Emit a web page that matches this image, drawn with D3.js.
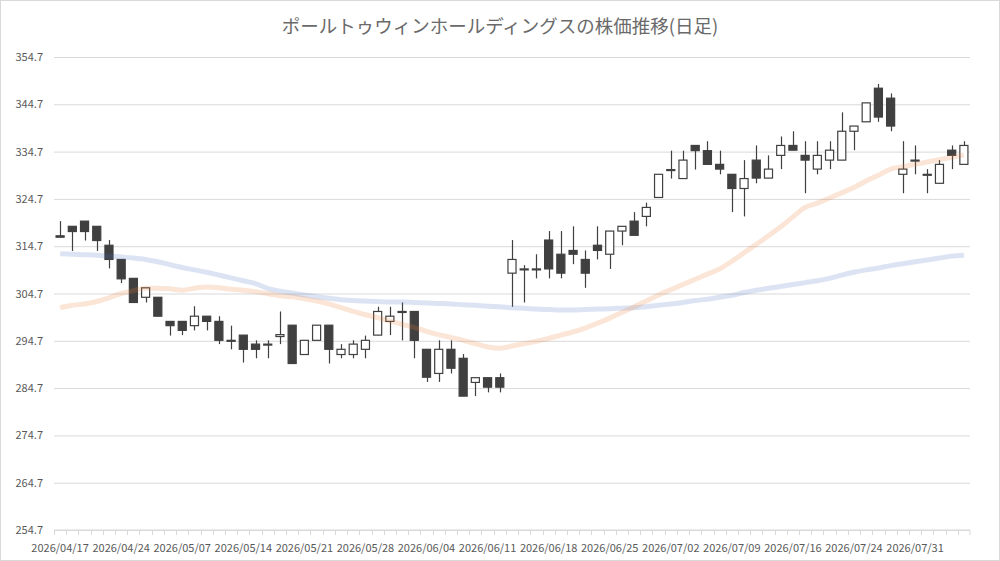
<!DOCTYPE html>
<html>
<head>
<meta charset="utf-8">
<script src="https://cdn.jsdelivr.net/npm/d3@7"></script>
<style>
  body { margin: 0; background: #fff; }
  text { font-family: "Noto Sans CJK JP", "Noto Sans", sans-serif; fill: #595959; }
</style>
</head>
<body>
<svg id="chart" width="1000" height="561"></svg>
<script>
// data
var dates = ["2026/04/17","2026/04/20","2026/04/21","2026/04/22","2026/04/23","2026/04/24","2026/04/27","2026/04/28","2026/04/30","2026/05/01",
  "2026/05/07","2026/05/08","2026/05/11","2026/05/12","2026/05/13","2026/05/14","2026/05/15","2026/05/18","2026/05/19","2026/05/20",
  "2026/05/21","2026/05/22","2026/05/25","2026/05/26","2026/05/27","2026/05/28","2026/05/29","2026/06/01","2026/06/02","2026/06/03",
  "2026/06/04","2026/06/05","2026/06/08","2026/06/09","2026/06/10","2026/06/11","2026/06/12","2026/06/15","2026/06/16","2026/06/17",
  "2026/06/18","2026/06/19","2026/06/22","2026/06/23","2026/06/24","2026/06/25","2026/06/26","2026/06/29","2026/06/30","2026/07/01",
  "2026/07/02","2026/07/03","2026/07/06","2026/07/07","2026/07/08","2026/07/09","2026/07/10","2026/07/13","2026/07/14","2026/07/15",
  "2026/07/16","2026/07/17","2026/07/21","2026/07/22","2026/07/23","2026/07/24","2026/07/27","2026/07/28","2026/07/29","2026/07/30",
  "2026/07/31","2026/08/03","2026/08/04","2026/08/05","2026/08/06"];

var open = [316.9,318.9,320.0,318.9,314.9,311.9,307.9,303.9,303.9,298.8,
  298.8,297.9,299.9,298.8,294.8,295.9,294.0,294.0,295.6,298.0,
  291.8,294.8,298.0,291.8,291.8,292.9,295.9,298.8,300.9,300.9,
  292.9,287.8,292.9,291.0,285.9,286.9,286.9,309.0,309.9,309.9,
  316.0,313.0,313.8,311.9,314.9,313.0,317.9,320.0,321.0,325.0,
  330.9,329.0,336.0,334.9,332.0,329.9,326.9,332.9,329.1,333.9,
  336.0,333.9,331.0,332.9,332.9,339.0,341.0,348.1,346.0,329.9,
  332.9,329.9,328.0,335.0,332.0];
var high = [320.0,318.9,320.0,318.9,316.0,311.9,307.9,305.9,303.9,298.8,
  298.8,302.0,299.9,299.9,297.9,295.9,294.8,294.8,300.9,298.0,
  294.8,298.0,298.0,294.0,294.8,295.8,301.9,301.9,302.8,300.9,
  292.9,294.8,294.8,291.9,286.9,286.9,287.8,316.0,310.7,313.0,
  317.9,317.9,318.9,313.8,318.9,317.9,318.9,321.9,323.9,329.9,
  334.9,334.9,336.0,336.9,334.9,329.9,332.9,336.0,333.9,337.9,
  339.0,336.9,336.9,336.9,343.0,340.1,345.0,349.0,347.0,336.9,
  336.0,331.0,332.9,336.0,336.9];
var low = [316.6,313.7,315.9,313.7,310.0,306.9,302.8,302.8,299.9,295.8,
  295.9,296.9,296.9,294.0,292.9,290.1,291.0,291.0,294.0,289.9,
  291.8,294.8,289.9,291.0,291.0,291.0,295.9,295.9,294.8,291.0,
  286.0,286.0,287.8,283.0,283.0,283.8,283.8,301.9,302.8,307.9,
  307.9,307.9,310.9,305.9,311.9,309.9,314.9,317.0,318.9,325.0,
  329.0,329.0,330.9,332.0,329.9,321.9,321.0,328.0,329.1,331.0,
  335.0,325.9,329.9,331.0,332.9,335.0,341.0,341.0,339.0,325.9,
  329.9,325.9,328.0,331.0,332.0];
var close = [316.6,317.8,317.8,315.9,311.9,307.8,302.8,305.9,299.9,297.9,
  296.9,299.9,298.8,294.8,294.8,292.9,292.9,294.0,296.0,289.9,
  294.8,298.0,292.9,292.9,294.0,294.8,300.9,299.9,300.9,294.8,
  287.0,292.9,288.9,283.0,286.9,284.9,284.9,311.9,309.9,309.9,
  309.9,309.0,313.0,309.0,313.8,317.9,318.9,317.0,322.9,329.9,
  330.9,332.9,334.9,332.0,331.0,326.9,329.0,329.1,331.0,336.0,
  335.0,332.9,333.9,335.0,339.0,340.1,345.0,342.0,340.1,331.0,
  332.9,329.9,332.0,333.9,336.0];

// moving averages (orange = short, blue = long)
var maShort = [301.7,302.2,302.5,303.0,303.8,304.7,305.3,305.8,305.8,305.7,
  305.4,305.8,306.1,305.9,305.6,305.4,305.1,304.7,304.2,304.0,
  303.6,303.1,302.5,301.7,300.9,300.2,299.6,298.9,298.2,297.5,
  296.7,296.0,295.4,294.8,294.1,293.4,293.1,293.6,294.1,294.6,
  295.2,295.9,296.6,297.4,298.4,299.5,300.7,301.9,303.1,304.4,
  305.5,306.6,307.7,308.8,309.9,311.5,313.3,315.1,316.9,318.8,
  320.9,322.9,323.8,324.9,326.0,327.1,328.5,329.7,331.0,331.5,
  332.0,332.5,333.0,333.5,334.0];
var maLong = [313.1,313.0,312.9,312.8,312.6,312.4,312.2,311.9,311.4,310.8,
  310.2,309.7,309.2,308.6,308.0,307.4,306.8,305.8,305.2,304.8,
  304.4,304.0,303.7,303.4,303.2,303.1,303.0,302.9,302.9,302.8,
  302.7,302.6,302.5,302.3,302.2,302.0,301.9,301.7,301.6,301.4,
  301.3,301.2,301.2,301.3,301.4,301.5,301.6,301.7,301.9,302.2,
  302.5,302.8,303.2,303.5,303.9,304.3,304.9,305.4,305.8,306.2,
  306.6,307.0,307.4,307.9,308.6,309.2,309.7,310.1,310.6,311.0,
  311.4,311.8,312.2,312.6,312.8];

var yTicks = [254.7,264.7,274.7,284.7,294.7,304.7,314.7,324.7,334.7,344.7,354.7];
var title = "ポールトゥウィンホールディングスの株価推移(日足)";

var svg = d3.select("#chart");
var plotLeft = 54, plotRight = 970, plotTop = 57, plotBottom = 530;

svg.append("rect")
    .attr("x", 0.5).attr("y", 0.5).attr("width", 999).attr("height", 560)
    .attr("fill", "#fff").attr("stroke", "#d9d9d9");

svg.append("text")
    .attr("x", 500).attr("y", 33)
    .attr("text-anchor", "middle")
    .style("font-size", "18.5px")
    .style("fill", "#6a6a6a")
    .text(title);

var x = d3.scaleBand().domain(dates).range([plotLeft, plotRight]).paddingInner(0.34).paddingOuter(0.17);
var xc = d3.scaleBand().domain(dates).range([plotLeft, plotRight]);
var y = d3.scaleLinear().domain([yTicks[0], yTicks[yTicks.length - 1]]).range([plotBottom, plotTop]);

// grid + y labels
var yAxis = svg.append("g")
    .attr("transform", "translate(" + plotLeft + ",0)")
    .call(d3.axisLeft(y).tickValues(yTicks).tickSize(-(plotRight - plotLeft)).tickFormat(d3.format(".1f")));
yAxis.select(".domain").remove();
yAxis.selectAll(".tick line").attr("stroke", "#d9d9d9");
yAxis.selectAll(".tick text")
    .attr("x", -11)
    .style("font-size", "11px")
    .style("fill", "#595959");

// x axis: ticks at every category boundary, labels every 5th day
var xg = svg.append("g").attr("transform", "translate(0," + plotBottom + ")");
xg.append("line").attr("x1", plotLeft).attr("x2", plotRight).attr("stroke", "#d9d9d9");
xg.selectAll("line.tk")
    .data(dates.concat(["end"]))
    .join("line")
    .attr("class", "tk")
    .attr("x1", function (d) { return d === "end" ? plotRight : Math.round(xc(d)) + 0.5; })
    .attr("x2", function (d) { return d === "end" ? plotRight : Math.round(xc(d)) + 0.5; })
    .attr("y1", 0).attr("y2", 5)
    .attr("stroke", "#d9d9d9");
xg.selectAll("text")
    .data(dates.filter(function (d, i) { return i % 5 === 0; }))
    .join("text")
    .attr("x", function (d) { return xc(d) + xc.bandwidth() / 2; })
    .attr("y", 22)
    .attr("text-anchor", "middle")
    .style("font-size", "11px")
    .text(function (d) { return d; });

// candles
var idx = d3.range(dates.length);
var candles = svg.append("g");
candles.selectAll("line.wick")
    .data(idx)
    .join("line")
    .attr("class", "wick")
    .attr("x1", function (i) { return Math.round(xc(dates[i]) + xc.bandwidth() / 2) + 0.5; })
    .attr("x2", function (i) { return Math.round(xc(dates[i]) + xc.bandwidth() / 2) + 0.5; })
    .attr("y1", function (i) { return y(high[i]); })
    .attr("y2", function (i) { return y(low[i]); })
    .attr("stroke", "#404040")
    .attr("stroke-width", 1.2);
candles.selectAll("rect.body")
    .data(idx)
    .join("rect")
    .attr("class", "body")
    .attr("x", function (i) { return x(dates[i]); })
    .attr("width", x.bandwidth())
    .attr("y", function (i) { return y(Math.max(open[i], close[i])); })
    .attr("height", function (i) { return Math.max(1, Math.abs(y(open[i]) - y(close[i]))); })
    .attr("fill", function (i) { return close[i] < open[i] ? "#404040" : "#fff"; })
    .attr("stroke", "#404040")
    .attr("stroke-width", 1.2);

// moving averages, drawn over the candles
var line = d3.line()
    .x(function (d, i) { return xc(dates[i]) + xc.bandwidth() / 2; })
    .y(function (d) { return y(d); })
    .curve(d3.curveMonotoneX);
svg.append("path").datum(maLong)
    .attr("d", line)
    .attr("fill", "none")
    .attr("stroke", "#4472c4")
    .attr("stroke-opacity", 0.19)
    .attr("stroke-width", 5)
    .attr("stroke-linejoin", "round");
svg.append("path").datum(maShort)
    .attr("d", line)
    .attr("fill", "none")
    .attr("stroke", "#ed7d31")
    .attr("stroke-opacity", 0.2)
    .attr("stroke-width", 5)
    .attr("stroke-linejoin", "round");
</script>
</body>
</html>
